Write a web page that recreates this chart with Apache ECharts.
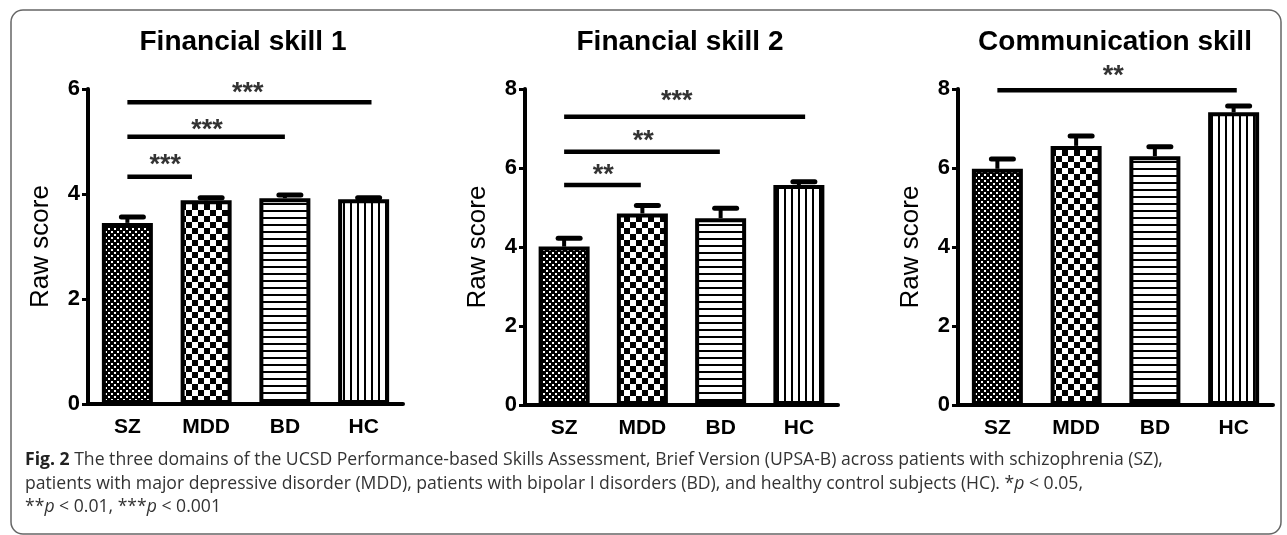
<!DOCTYPE html>
<html>
<head>
<meta charset="utf-8">
<script src="https://cdn.jsdelivr.net/npm/echarts@6/dist/echarts.min.js"></script>
<style>
  html, body { margin: 0; padding: 0; background: #fff; }
  #chart { width: 1287px; height: 535px; }
</style>
</head>
<body>
<div id="chart"></div>
<script>
// ---------------- data ----------------
const categories = ['SZ', 'MDD', 'BD', 'HC'];
const panelTitles = ['Financial skill 1', 'Financial skill 2', 'Communication skill'];
const yAxisName = 'Raw score';
const yMaxes = [6, 8, 8];
const yInterval = 2;

const fin1Means = [3.45, 3.88, 3.92, 3.90];
const fin1Sem   = [0.11, 0.05, 0.06, 0.03];
const fin2Means = [4.01, 4.85, 4.73, 5.57];
const fin2Sem   = [0.21, 0.20, 0.25, 0.08];
const commMeans = [5.98, 6.56, 6.30, 7.41];
const commSem   = [0.25, 0.25, 0.24, 0.16];

// significance brackets: [fromCategory, toCategory, lineY, label, starX, starY]
const fin1Sig = [[0, 3.1, 5.75, '***', 1.53, 6.0], [0, 2.0, 5.09, '***', 1.01, 5.31], [0, 0.82, 4.33, '***', 0.48, 4.63]];
const fin2Sig = [[0, 3.08, 7.30, '***', 1.44, 7.8], [0, 1.99, 6.41, '**', 1.01, 6.8], [0, 0.98, 5.57, '**', 0.5, 5.93]];
const commSig = [[0, 3.04, 7.97, '**', 1.47, 8.43]];

const captionLines = [
  '{b|Fig. 2} The three domains of the UCSD Performance-based Skills Assessment, Brief Version (UPSA-B) across patients with schizophrenia (SZ),',
  'patients with major depressive disorder (MDD), patients with bipolar I disorders (BD), and healthy control subjects (HC). *{i|p} < 0.05,',
  '**{i|p} < 0.01, ***{i|p} < 0.001'
];

// ---------------- patterns ----------------
function makeCanvas(w, h, draw) {
  const c = document.createElement('canvas');
  c.width = w; c.height = h;
  const ctx = c.getContext('2d');
  draw(ctx, w, h);
  return c;
}
const patSZ = makeCanvas(6, 6, (ctx) => {
  ctx.fillStyle = '#000'; ctx.fillRect(0, 0, 6, 6);
  ctx.fillStyle = '#fff'; ctx.fillRect(0, 0, 2, 2); ctx.fillRect(3, 3, 2, 2);
});
const patMDD = makeCanvas(12, 12, (ctx) => {
  ctx.fillStyle = '#fff'; ctx.fillRect(0, 0, 12, 12);
  ctx.fillStyle = '#000'; ctx.fillRect(0, 0, 6, 6); ctx.fillRect(6, 6, 6, 6);
});
const patBD = makeCanvas(4, 7, (ctx) => {
  ctx.fillStyle = '#fff'; ctx.fillRect(0, 0, 4, 7);
  ctx.fillStyle = '#000'; ctx.fillRect(0, 0, 4, 2);
});
const patHC = makeCanvas(7, 4, (ctx) => {
  ctx.fillStyle = '#fff'; ctx.fillRect(0, 0, 7, 4);
  ctx.fillStyle = '#000'; ctx.fillRect(0, 0, 2, 4);
});
const patterns = [patSZ, patMDD, patBD, patHC].map(img => ({ image: img, repeat: 'repeat' }));

// ---------------- layout ----------------
const FONT = '"Liberation Sans", Arial, sans-serif';
const grids = [
  { left: 88, top: 89, width: 315, height: 315 },
  { left: 525, top: 89, width: 313, height: 316 },
  { left: 958, top: 89, width: 315, height: 316 }
];
const titleX = [243, 680, 1115];
const panels = [
  { means: fin1Means, sem: fin1Sem, sig: fin1Sig },
  { means: fin2Means, sem: fin2Sem, sig: fin2Sig },
  { means: commMeans, sem: commSem, sig: commSig }
];

const xAxes = [], yAxes = [], series = [];
panels.forEach((p, k) => {
  xAxes.push({
    type: 'category', gridIndex: k, data: categories,
    axisLine: { onZero: false, lineStyle: { color: '#000', width: 4 } },
    axisTick: { alignWithLabel: true, length: 6, lineStyle: { color: '#000', width: 3 } },
    axisLabel: { color: '#000', fontSize: 21, fontWeight: 'bold', fontFamily: FONT, margin: 13 }
  });
  xAxes.push({ type: 'value', gridIndex: k, min: -0.5, max: 3.5, show: false });
  yAxes.push({
    type: 'value', gridIndex: k, min: 0, max: yMaxes[k], interval: yInterval,
    name: yAxisName, nameLocation: 'middle', nameGap: 34,
    nameTextStyle: { color: '#000', fontSize: 26, fontFamily: FONT },
    splitLine: { show: false },
    axisLine: { show: true, onZero: false, lineStyle: { color: '#000', width: 4 } },
    axisTick: { show: true, length: 6, lineStyle: { color: '#000', width: 3 } },
    axisLabel: { color: '#000', fontSize: 22, fontWeight: 'bold', fontFamily: FONT, margin: 8 }
  });
  series.push({
    type: 'bar', xAxisIndex: 2 * k, yAxisIndex: k, barWidth: 51,
    data: p.means.map((v, i) => ({ value: v, itemStyle: { color: patterns[i] } })),
    itemStyle: { borderColor: '#000', borderWidth: 4 },
    z: 3
  });
  series.push({
    type: 'custom', xAxisIndex: 2 * k, yAxisIndex: k, z: 4,
    data: p.means.map((v, i) => [i, v, p.sem[i]]),
    encode: { x: 0, y: 1 },
    renderItem: (params, api) => {
      const i = api.value(0), m = api.value(1), s = api.value(2);
      const base = api.coord([i, m]);
      const top = api.coord([i, m + s]);
      const st = { stroke: '#000', lineWidth: 4 };
      return {
        type: 'group', children: [
          { type: 'line', shape: { x1: base[0], y1: base[1], x2: top[0], y2: top[1] }, style: st },
          { type: 'line', shape: { x1: top[0] - 6, y1: top[1], x2: top[0] + 16, y2: top[1] }, style: { stroke: '#000', lineWidth: 5, lineCap: 'round' } }
        ]
      };
    }
  });
  p.sig.forEach(s => {
    series.push({
      type: 'line', xAxisIndex: 2 * k + 1, yAxisIndex: k, clip: false,
      data: [[s[0], s[2]], [s[1], s[2]]], symbol: 'none', silent: true,
      lineStyle: { color: '#000', width: 4.5, cap: 'butt' }, z: 5
    });
  });
  series.push({
    type: 'scatter', xAxisIndex: 2 * k + 1, yAxisIndex: k, clip: false, silent: true,
    symbolSize: 1, itemStyle: { color: 'rgba(0,0,0,0)' },
    data: p.sig.map(s => [s[4], s[5], s[3]]),
    label: {
      show: true, position: 'inside', offset: [0, 5],
      formatter: (q) => q.data[2],
      color: '#000', fontSize: 27, fontWeight: 'bold', fontFamily: FONT
    },
    z: 6
  });
});

const graphics = [
  { type: 'rect', shape: { x: 11, y: 10, width: 1270, height: 524, r: 12 }, style: { fill: 'none', stroke: '#666', lineWidth: 1.5 }, silent: true }
];
panelTitles.forEach((t, k) => {
  graphics.push({ type: 'text', x: titleX[k], y: 42, style: { text: t, align: 'center', verticalAlign: 'middle', font: 'bold 28px ' + FONT, fill: '#000' } });
});
const capY = [460, 484, 507];
captionLines.forEach((t, k) => {
  graphics.push({
    type: 'text', x: 25, y: capY[k],
    style: {
      text: t, align: 'left', verticalAlign: 'middle', fill: '#333',
      font: '17.6px "Open Sans", sans-serif',
      rich: {
        b: { fontWeight: 'bold', fontFamily: '"Open Sans", sans-serif', fontSize: 17.6, fill: '#222', color: '#222' },
        i: { fontStyle: 'italic', fontFamily: '"Open Sans", sans-serif', fontSize: 17.6, fill: '#333', color: '#333' }
      }
    }
  });
});

const chart = echarts.init(document.getElementById('chart'), null, { renderer: 'canvas' });
chart.setOption({
  backgroundColor: '#fff',
  animation: false,
  grid: grids,
  xAxis: xAxes,
  yAxis: yAxes,
  series: series,
  graphic: graphics
});
</script>
</body>
</html>
